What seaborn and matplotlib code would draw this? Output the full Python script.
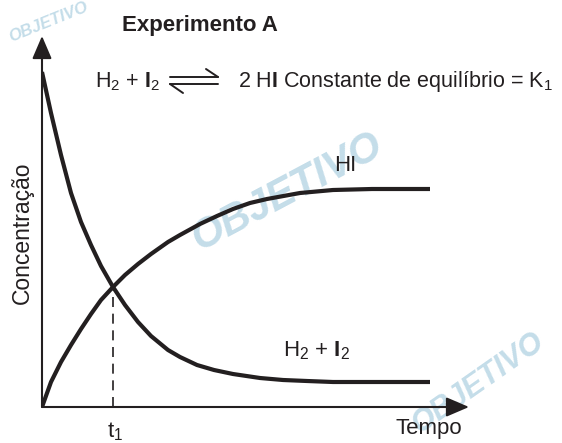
import numpy as np
import pandas as pd
import seaborn as sns
import matplotlib.pyplot as plt
from matplotlib.lines import Line2D

# Values (arbitrary units)
time_h2 = [0, 9, 19, 29, 39, 49, 59, 71, 83, 96, 109, 126, 138, 155, 172, 191, 218,
           241, 265, 291, 330, 388]
conc_h2 = [335, 294, 252, 214, 185, 162, 141, 120, 102, 85, 71, 57, 50, 42, 37, 33, 29,
           27, 26, 25, 25, 25]

time_hi = [0, 9, 19, 29, 39, 49, 59, 71, 83, 96, 109, 126, 138, 158, 175, 191, 208, 225,
           258, 291, 330, 388]
conc_hi = [0, 25, 45, 62, 78, 93, 107, 120, 132, 143, 153, 165, 172, 183, 191, 198, 204,
           208, 214, 217, 218, 218]

t1 = 71
curve_names = ["HI", "H$_2$ + $\\mathbf{I}_2$"]

sns.set_style("white")
plt.rcParams["font.family"] = ["Liberation Sans", "DejaVu Sans"]
plt.rcParams["mathtext.fontset"] = "custom"
plt.rcParams["mathtext.rm"] = "Liberation Sans"
plt.rcParams["mathtext.it"] = "Liberation Sans:italic"
plt.rcParams["mathtext.bf"] = "Liberation Sans:bold"

ink = "#231f20"
W, H = 562, 443


def fx(x):
    return x / W


def fy(y):
    return 1 - y / H


fig = plt.figure(figsize=(W / 100, H / 100), dpi=100)

# watermark (behind the chart)
wm = "#c4dde9"
fig.text(fx(288), fy(192), "OBJETIVO", fontsize=30, fontweight="bold", style="italic",
         color=wm, rotation=28, ha="center", va="center", zorder=-1)
fig.text(fx(478), fy(383), "OBJETIVO", fontsize=22, fontweight="bold", style="italic",
         color=wm, rotation=35, ha="center", va="center", zorder=-1)
fig.text(fx(48), fy(22), "OBJETIVO", fontsize=12, fontweight="bold", style="italic",
         color=wm, rotation=22, ha="center", va="center", zorder=-1)

ax = fig.add_axes([fx(42), fy(407), (469 - 42) / W, (407 - 36) / H])
ax.patch.set_alpha(0)
ax.set_xlim(0, 427)
ax.set_ylim(0, 371)

df_h2 = pd.DataFrame({"Tempo": time_h2, "Conc": conc_h2})
df_hi = pd.DataFrame({"Tempo": time_hi, "Conc": conc_hi})
sns.lineplot(data=df_h2, x="Tempo", y="Conc", ax=ax, color=ink, lw=3.0, sort=False)
sns.lineplot(data=df_hi, x="Tempo", y="Conc", ax=ax, color=ink, lw=3.0, sort=False)
for ln in ax.get_lines():
    ln.set_solid_joinstyle("round")
    ln.set_solid_capstyle("butt")

# dashed drop line at t1
y_t1 = conc_h2[time_h2.index(t1)]
ax.plot([t1, t1], [0, y_t1], color=ink, lw=1.2, ls=(0, (6, 4)))

# axes with arrows
for sp in ax.spines.values():
    sp.set_visible(False)
ax.set_xticks([])
ax.set_yticks([])
ax.set_xlabel("")
ax.set_ylabel("")
arrow = dict(arrowstyle="-|>,head_length=0.7,head_width=0.3", lw=1.5, color=ink,
             mutation_scale=20, shrinkA=0, shrinkB=0)
ax.annotate("", xy=(0, 1), xytext=(0, 0), xycoords="axes fraction", arrowprops=arrow)
ax.annotate("", xy=(1, 0), xytext=(0, 0), xycoords="axes fraction", arrowprops=arrow)

# texts
fs = 16
fe = 15.5
fig.text(fx(122), fy(31), "Experimento A", fontsize=fs, fontweight="bold", color=ink,
         va="baseline")
fig.text(fx(95), fy(87), "H$_2$ + $\\mathbf{I}_2$", fontsize=fe, color=ink, va="baseline")
fig.text(fx(238), fy(87), "2 H$\\mathbf{I}$", fontsize=fe, color=ink, va="baseline")
fig.text(fx(283), fy(87), "Constante de equilíbrio = K$_1$", fontsize=fe, color=ink,
         va="baseline")

# equilibrium harpoons
hp = dict(color=ink, lw=1.4, transform=fig.transFigure)
fig.add_artist(Line2D([fx(170), fx(218)], [fy(77), fy(77)], **hp))
fig.add_artist(Line2D([fx(218), fx(206)], [fy(77), fy(69)], **hp))
fig.add_artist(Line2D([fx(170), fx(218)], [fy(84), fy(84)], **hp))
fig.add_artist(Line2D([fx(170), fx(183)], [fy(84), fy(93)], **hp))

fig.text(fx(22), fy(233), "Concentração", fontsize=16.5, color=ink, rotation=90,
         ha="center", va="center")
fig.text(fx(345), fy(171), curve_names[0], fontsize=fs, color=ink, ha="center",
         va="baseline")
fig.text(fx(283), fy(356), curve_names[1], fontsize=fs, color=ink, va="baseline")
fig.text(fx(115), fy(437), "t$_1$", fontsize=fs, color=ink, ha="center", va="baseline")
fig.text(fx(396), fy(434), "Tempo", fontsize=fs, color=ink, va="baseline")

fig.savefig("out.png", dpi=100)
